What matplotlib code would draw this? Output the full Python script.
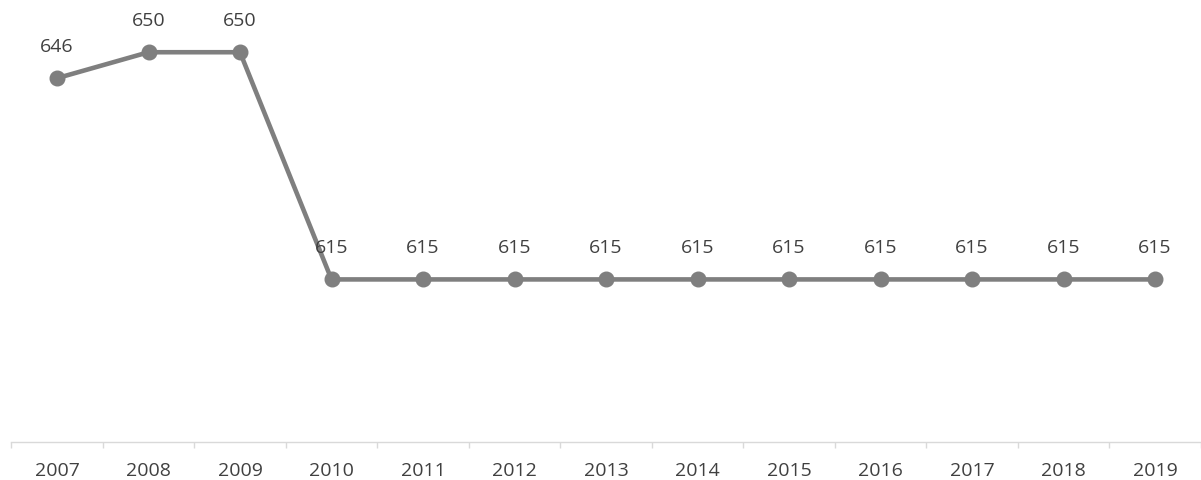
import numpy as np
from matplotlib import pyplot as plt
from matplotlib import rcParams

rcParams["font.family"] = ["Open Sans", "DejaVu Sans"]

years = ["2007", "2008", "2009", "2010", "2011", "2012", "2013",
         "2014", "2015", "2016", "2017", "2018", "2019"]
values = [646, 650, 650, 615, 615, 615, 615, 615, 615, 615, 615, 615, 615]

line_col = "#7f7f7f"
text_col = "#404040"

fig = plt.figure(figsize=(12.01, 4.81), dpi=100)
ax = fig.add_axes([11.25 / 1201, (481 - 442.7) / 481, 1189.5 / 1201, 442.7 / 481])

x = np.arange(len(years))
ax.plot(x, values, color=line_col, linewidth=3.3, marker="o", markersize=10.5,
        solid_capstyle="round", clip_on=False)

for xi, v in zip(x, values):
    ax.annotate(str(v), (xi, v), xytext=(0, 23.5), textcoords="offset points",
                ha="center", va="center", fontsize=14, color=text_col)

ax.set_xlim(-0.5, len(years) - 0.5)
ax.set_ylim(590, 658.2)

ax.set_xticks(x)
ax.set_xticklabels(years, fontsize=14, color=text_col)
ax.set_xticks(np.arange(-0.5, len(years)), minor=True)
ax.tick_params(axis="x", which="major", length=0, pad=14)
ax.tick_params(axis="x", which="minor", length=4, width=1, color="#d9d9d9")
ax.set_yticks([])

for s in ["top", "right", "left"]:
    ax.spines[s].set_visible(False)
ax.spines["bottom"].set_color("#d9d9d9")
ax.spines["bottom"].set_linewidth(1)
ax.patch.set_alpha(0)

fig.savefig("out.png", dpi=100)
